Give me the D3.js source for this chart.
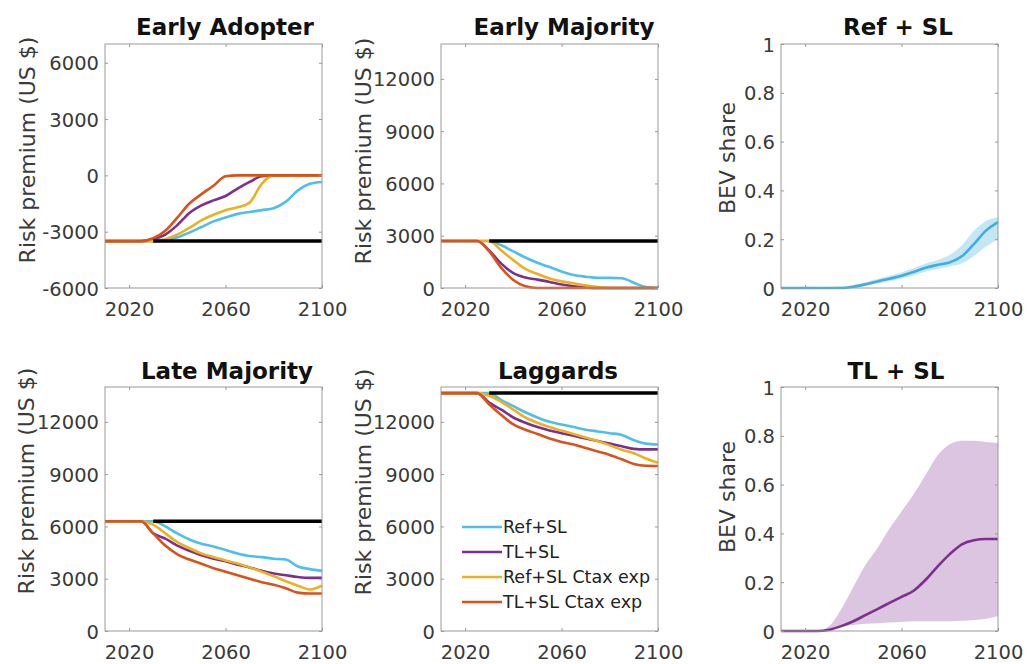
<!DOCTYPE html>
<html><head><meta charset="utf-8">
<script src="https://cdn.jsdelivr.net/npm/d3@7"></script>
<style>
body{margin:0;background:#fff}
svg{display:block}
text{font-family:"DejaVu Sans",Verdana,sans-serif}
</style>
</head><body>
<svg id="c" width="1029" height="664"></svg>
<script>
// ---------- DATA ----------
const years = [2010,2015,2020,2025,2030,2035,2040,2045,2050,2055,2060,2065,2070,2075,2080,2085,2090,2095,2100];
const xTicks = [2020,2060,2100];
const seriesNames = ["Ref+SL","TL+SL","Ref+SL Ctax exp","TL+SL Ctax exp"];
const seriesColors = ["#4DBEEE","#7E2F8E","#EDB120","#D95319"];

// Early Adopter
const eaRef     = [-3500,-3500,-3500,-3500,-3500,-3450,-3300,-3050,-2750,-2450,-2250,-2050,-1950,-1850,-1750,-1400,-800,-450,-350];
const eaTL      = [-3500,-3500,-3500,-3500,-3400,-3150,-2650,-2000,-1600,-1330,-1100,-700,-350,-50,0,0,0,0,0];
const eaRefCtax = [-3500,-3500,-3500,-3500,-3500,-3400,-3150,-2800,-2400,-2100,-1860,-1700,-1450,-450,0,0,0,0,0];
const eaTLCtax  = [-3500,-3500,-3500,-3500,-3350,-2950,-2250,-1500,-1000,-550,-50,0,0,0,0,0,0,0,0];
const eaBaseline = -3500;
const eaTicks = [-6000,-3000,0,3000,6000];

// Early Majority
const emRef     = [2700,2700,2700,2700,2700,2450,2100,1750,1450,1200,950,750,650,580,580,560,300,50,0];
const emTL      = [2700,2700,2700,2700,2150,1400,850,600,480,350,200,100,30,0,0,0,0,0,0];
const emRefCtax = [2700,2700,2700,2700,2700,2150,1600,1100,800,550,380,270,150,50,0,0,0,0,0];
const emTLCtax  = [2700,2700,2700,2700,2100,1150,460,100,0,0,0,0,0,0,0,0,0,0,0];
const emBaseline = 2700;

// Late Majority
const lmRef     = [6300,6300,6300,6300,6300,6000,5600,5250,5000,4850,4650,4450,4300,4240,4150,4100,3700,3550,3450];
const lmTL      = [6300,6300,6300,6300,5600,5300,4900,4600,4350,4150,4000,3800,3650,3450,3300,3200,3100,3050,3050];
const lmRefCtax = [6300,6300,6300,6300,6100,5600,5100,4750,4450,4240,4050,3870,3650,3400,3150,2850,2600,2380,2600];
const lmTLCtax  = [6300,6300,6300,6300,5600,4900,4400,4100,3860,3600,3400,3200,3000,2800,2650,2450,2200,2150,2150];
const lmBaseline = 6300;

// Laggards
const lgRef     = [13650,13650,13650,13650,13650,13250,12900,12550,12250,12000,11850,11700,11550,11450,11350,11250,10950,10750,10700];
const lgTL      = [13650,13650,13650,13650,13100,12700,12250,11950,11700,11500,11350,11200,11050,10900,10750,10600,10450,10420,10420];
const lgRefCtax = [13650,13650,13650,13650,13500,13150,12700,12250,11950,11700,11500,11300,11100,10900,10650,10400,10200,9900,9650];
const lgTLCtax  = [13650,13650,13650,13650,13000,12400,11850,11550,11300,11050,10850,10700,10500,10300,10100,9850,9580,9480,9470];
const lgBaseline = 13650;
const premiumTicks = [0,3000,6000,9000,12000];

// BEV share
const refMean  = [0,0,0,0,0,0,0.005,0.015,0.027,0.038,0.05,0.066,0.083,0.095,0.105,0.13,0.18,0.235,0.27];
const refUpper = [0.004,0.004,0.004,0.004,0.004,0.006,0.012,0.024,0.037,0.05,0.064,0.082,0.1,0.115,0.135,0.175,0.235,0.275,0.29];
const refLower = [0,0,0,0,0,0,0,0.008,0.018,0.028,0.038,0.052,0.068,0.078,0.088,0.1,0.13,0.17,0.2];
const tlMean   = [0,0,0,0,0.005,0.02,0.04,0.065,0.09,0.115,0.14,0.165,0.21,0.265,0.315,0.355,0.372,0.377,0.377];
const tlUpper  = [0,0,0,0,0.02,0.09,0.18,0.27,0.34,0.42,0.49,0.56,0.64,0.72,0.765,0.78,0.78,0.775,0.77];
const tlLower  = [0,0,0,0,0.004,0.018,0.025,0.03,0.032,0.035,0.037,0.04,0.04,0.04,0.04,0.042,0.045,0.05,0.06];
const shareTicks = [0,0.2,0.4,0.6,0.8,1];

// ---------- DRAW ----------
const svg = d3.select("#c");
const W = 217, H = 244;

function makePanel(opt){
  const g = svg.append("g").attr("transform",`translate(${opt.x},${opt.y})`);
  const x = d3.scaleLinear().domain([2010,2100]).range([0,W]);
  const y = d3.scaleLinear().domain(opt.yDomain).range([H,0]);
  g.append("rect").attr("width",W).attr("height",H).attr("fill","#fff");
  const content = g.append("g");
  const ax = (axis)=>axis.tickSizeInner(-3).tickSizeOuter(0).tickPadding(9);
  const xb = g.append("g").attr("transform",`translate(0,${H})`)
    .call(ax(d3.axisBottom(x).tickValues(xTicks).tickFormat(d=>String(d))));
  const xt = g.append("g").call(d3.axisTop(x).tickValues(xTicks).tickSizeInner(-3).tickSizeOuter(0).tickFormat(""));
  const yl = g.append("g").call(ax(d3.axisLeft(y).tickValues(opt.yTicks).tickFormat(opt.fmt || (d=>String(d)))));
  const yr = g.append("g").attr("transform",`translate(${W},0)`)
    .call(d3.axisRight(y).tickValues(opt.yTicks).tickSizeInner(-3).tickSizeOuter(0).tickFormat(""));
  [xb,xt,yl,yr].forEach(a=>{
    a.select(".domain").remove();
    a.selectAll("line").attr("stroke","#999");
    a.selectAll("text").attr("fill","#3a3a3a").style("font-size","19.5px").style("font-family","'DejaVu Sans',sans-serif");
  });
  xb.selectAll("text").attr("dy","0.72em").attr("y",14);
  yl.selectAll("text").attr("x",-6).attr("dy","0.36em");
  g.append("rect").attr("width",W).attr("height",H).attr("fill","none").attr("stroke","#9a9a9a").attr("stroke-width",1);
  svg.append("text").attr("x",opt.titleX).attr("y",opt.titleY).attr("text-anchor","middle")
    .style("font-size","23px").style("font-weight","bold").attr("fill","#111").text(opt.title);
  svg.append("text").attr("transform",`translate(${opt.ylx},${opt.yly}) rotate(-90)`)
    .attr("text-anchor","middle").style("font-size","22px").attr("fill","#3a3a3a").text(opt.ylabel);
  return {g:content,x,y};
}

function premiumPanel(opt, series, baseline){
  const p = makePanel(opt);
  const line = d3.line().x((d,i)=>p.x(years[i])).y(d=>p.y(d)).curve(d3.curveMonotoneX);
  series.forEach((s,k)=>{
    p.g.append("path").datum(s).attr("d",line).attr("fill","none")
      .attr("stroke",seriesColors[k]).attr("stroke-width",2.6).attr("stroke-linejoin","round");
  });
  p.g.append("line").attr("x1",p.x(2030)).attr("x2",p.x(2100))
    .attr("y1",p.y(baseline)).attr("y2",p.y(baseline)).attr("stroke","#000").attr("stroke-width",3.5);
  return p;
}

function sharePanel(opt, mean, lower, upper, color, fillOpacity){
  const p = makePanel(opt);
  const area = d3.area().x((d,i)=>p.x(years[i])).y0((d,i)=>p.y(lower[i])).y1((d,i)=>p.y(upper[i])).curve(d3.curveMonotoneX);
  p.g.append("path").datum(mean).attr("d",area).attr("fill",color).attr("fill-opacity",fillOpacity);
  const line = d3.line().x((d,i)=>p.x(years[i])).y(d=>p.y(d)).curve(d3.curveMonotoneX);
  p.g.append("path").datum(mean).attr("d",line).attr("fill","none").attr("stroke",color).attr("stroke-width",2.6);
  return p;
}

const shareFmt = d=> d===0?"0":(d===1?"1":d3.format(".1f")(d));

premiumPanel({x:105,y:44,yDomain:[-6000,7000],yTicks:eaTicks,title:"Early Adopter",titleX:225,titleY:35,
  ylabel:"Risk premium (US $)",ylx:35,yly:150},[eaRef,eaTL,eaRefCtax,eaTLCtax],eaBaseline);
premiumPanel({x:441,y:44,yDomain:[0,14000],yTicks:premiumTicks,title:"Early Majority",titleX:564,titleY:35,
  ylabel:"Risk premium (US $)",ylx:371,yly:151},[emRef,emTL,emRefCtax,emTLCtax],emBaseline);
sharePanel({x:781,y:44,yDomain:[0,1],yTicks:shareTicks,fmt:shareFmt,title:"Ref + SL",titleX:898,titleY:35,
  ylabel:"BEV share",ylx:735,yly:158},refMean,refLower,refUpper,"#3FAEDF",0.3);
premiumPanel({x:105,y:387,yDomain:[0,14000],yTicks:premiumTicks,title:"Late Majority",titleX:227,titleY:379,
  ylabel:"Risk premium (US $)",ylx:34,yly:481},[lmRef,lmTL,lmRefCtax,lmTLCtax],lmBaseline);
premiumPanel({x:441,y:387,yDomain:[0,14000],yTicks:premiumTicks,title:"Laggards",titleX:558,titleY:379,
  ylabel:"Risk premium (US $)",ylx:371,yly:482},[lgRef,lgTL,lgRefCtax,lgTLCtax],lgBaseline);
sharePanel({x:781,y:387,yDomain:[0,1],yTicks:shareTicks,fmt:shareFmt,title:"TL + SL",titleX:896,titleY:379,
  ylabel:"BEV share",ylx:735,yly:497},tlMean,tlLower,tlUpper,"#7E2F8E",0.28);

// legend in Laggards panel
const leg = svg.append("g").attr("transform","translate(462,527)");
seriesNames.forEach((n,i)=>{
  const row = leg.append("g").attr("transform",`translate(0,${i*25})`);
  row.append("line").attr("x1",0).attr("x2",40).attr("stroke",seriesColors[i]).attr("stroke-width",2.6);
  row.append("text").attr("x",41).attr("dy","0.35em").style("font-size","17.5px").attr("fill","#222").text(n);
});
</script>
</body></html>
